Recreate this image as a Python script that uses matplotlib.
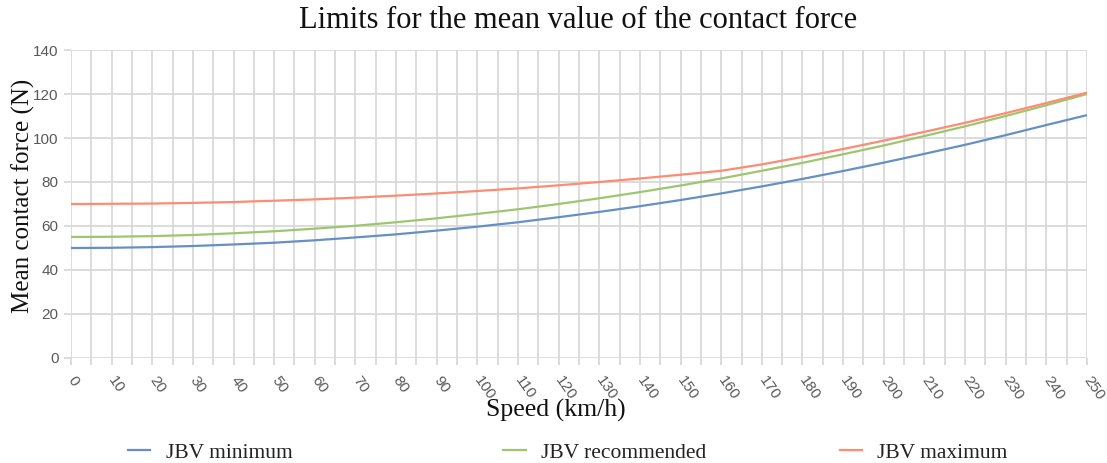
import matplotlib
matplotlib.use("Agg")
import matplotlib.pyplot as plt
from matplotlib.lines import Line2D
import numpy as np

# Speed (km/h) and mean contact force limits (N)
speed = list(range(0, 251, 10))
jbv_minimum = [50.0, 50.1, 50.4, 50.9, 51.6, 52.4, 53.5, 54.8, 56.2, 57.9,
               59.7, 61.7, 64.0, 66.4, 69.0, 71.8, 74.8, 78.0, 81.4, 85.0,
               88.8, 92.8, 96.9, 101.3, 105.9, 110.4]
jbv_recommended = [55.0, 55.1, 55.4, 55.9, 56.7, 57.6, 58.8, 60.1, 61.7, 63.5,
                   65.5, 67.6, 70.0, 72.6, 75.4, 78.4, 81.6, 85.1, 88.7, 92.6,
                   96.6, 100.9, 105.3, 110.0, 114.9, 120.0]
jbv_maximum = [70.0, 70.1, 70.2, 70.5, 70.9, 71.5, 72.1, 72.9, 73.8, 74.8,
               75.9, 77.1, 78.5, 80.0, 81.6, 83.3, 85.1, 88.0, 91.4, 95.0,
               98.8, 102.8, 106.9, 111.3, 115.9, 120.6]

series_names = ["JBV minimum", "JBV recommended", "JBV maximum"]
colors = ["#6690c4", "#9dc66e", "#fd8c72"]

x_ticks = list(range(0, 251, 10))
y_ticks = list(range(0, 141, 20))

serif = ["Liberation Serif", "DejaVu Serif"]
sans = ["Liberation Sans", "DejaVu Sans"]

fig = plt.figure(figsize=(11.07, 4.63), dpi=100)
ax = fig.add_axes([0.0641, 0.2268, 0.9178, 0.6652])

grid_c = "#d9d9d9"
lines = []
for vals, name, c in zip([jbv_minimum, jbv_recommended, jbv_maximum], series_names, colors):
    ln, = ax.plot(speed, vals, color=c, lw=1.6, label=name, zorder=3,
                  solid_capstyle="round")
    lines.append(ln)

ax.set_xlim(0, 250)
ax.set_ylim(0, 140)

# grid every 5 km/h and every 20 N
ax.set_xticks(np.arange(0, 251, 5))
ax.set_xticklabels([str(v) if v in x_ticks else "" for v in np.arange(0, 251, 5)],
                   rotation=-55, ha="left", va="center", rotation_mode="anchor",
                   family=sans, fontsize=11, color="#595959")
ax.set_yticks(y_ticks)
ax.set_yticklabels([str(v) for v in y_ticks], family=sans, fontsize=11,
                   color="#595959")
ax.grid(True, color=grid_c, lw=1.3, zorder=0)
ax.tick_params(axis="both", length=5, width=1.3, color=grid_c, pad=4)
ax.tick_params(axis="x", pad=9)
for s in ax.spines.values():
    s.set_visible(False)
ax.set_axisbelow(True)

fig.text(0.522, 0.955, "Limits for the mean value of the contact force",
         ha="center", va="center", family=serif, fontsize=22, color="#111111")
fig.text(0.021, 0.577, "Mean contact force (N)", rotation=90, ha="center",
         va="center", family=serif, fontsize=18, color="#111111")
fig.text(0.502, 0.113, "Speed (km/h)", ha="center", va="center",
         family=serif, fontsize=18.5, color="#111111")

# legend entries spread along the bottom
legend_x = [0.098, 0.437, 0.741]
for ln, lx in zip(lines, legend_x):
    h = Line2D([], [], color=ln.get_color(), lw=1.6)
    fig.legend(handles=[h], labels=[ln.get_label()], loc="center left",
               bbox_to_anchor=(lx, 0.022), frameon=False, handlelength=1.05,
               handletextpad=0.7, prop={"family": serif, "size": 15.5},
               labelcolor="#222222")

fig.savefig("out.png", dpi=100)
